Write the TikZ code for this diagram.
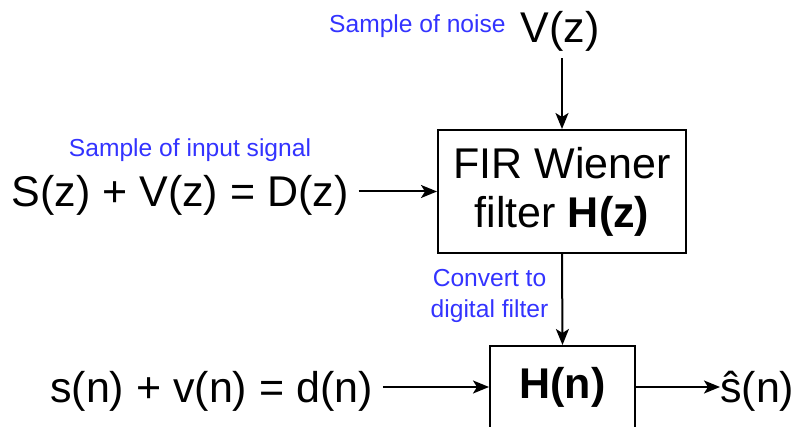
\documentclass[tikz,border=0pt]{standalone}
\usepackage{fontspec}
\setmainfont{Liberation Sans}
\usetikzlibrary{positioning}
\usetikzlibrary{arrows.meta}
\definecolor{noteblue}{HTML}{3333FF}
\tikzset{
  bigtext/.style={font=\fontsize{43}{49}\selectfont,inner sep=0pt},
  note/.style={font=\fontsize{24.6}{31}\selectfont,text=noteblue,align=center,inner sep=0pt},
  blockbox/.style={draw,line width=2pt,font=\fontsize{43}{49}\selectfont,align=center},
  sig/.style={-{Stealth[length=16pt,width=13pt,inset=4pt]},line width=2pt}
}
\begin{document}
\begin{tikzpicture}[x=1pt,y=-1pt]
\clip (0,0) rectangle (793,427);
%%% blocks %%%
\node[blockbox,minimum width=248pt,minimum height=123pt](fir) at (562,191.5){FIR Wiener\\filter \textbf{H(z)}};
\node[blockbox,minimum width=145pt,minimum height=82pt](hn) at (562.5,387){\textbf{H(n)}};
%%% signals %%%
\node[bigtext,anchor=base](vz) at (560,43){V(z)};
\node[bigtext,anchor=base](sdz) at (180,207){S(z) + V(z) = D(z)};
\node[bigtext,anchor=base west](sdn) at (50,403){s(n) + v(n) = d(n)};
\node[bigtext,anchor=base west](shat) at (720,403){\^{s}(n)};
%%% notes %%%
\node[note,anchor=base west](noisenote) at (329,33){Sample of noise};
\node[note,anchor=base](inputnote) at (190,157){Sample of input signal};
\node[note,anchor=base](convnote) at (489.5,318){Convert to\\digital filter};
%%% arrows %%%
\draw[sig,shorten <=6pt] (fir.north |- vz.south) -- (fir.north);
\draw[sig,shorten <=10pt] (sdz.east |- fir.west) -- (fir.west);
\draw[sig] (fir.south) -- (hn.north);
\draw[sig,shorten <=10pt] (sdn.east |- hn.west) -- (hn.west);
\draw[sig] (hn.east) -- (hn.east -| shat.west);
\end{tikzpicture}
\end{document}
